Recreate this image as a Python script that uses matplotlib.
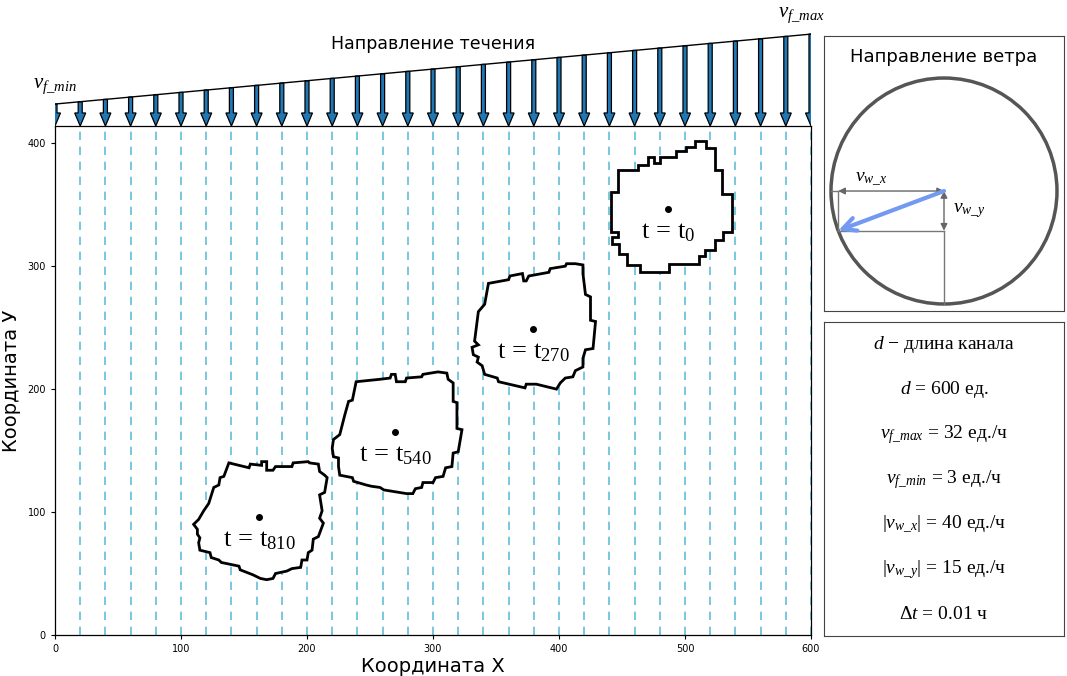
import numpy as np
import matplotlib
matplotlib.use('Agg')
import matplotlib.pyplot as plt
from matplotlib.patches import Polygon, Circle

plt.rcParams['mathtext.fontset'] = 'custom'
plt.rcParams['mathtext.rm'] = 'Liberation Serif'
plt.rcParams['mathtext.it'] = 'Liberation Serif:italic'
plt.rcParams['mathtext.bf'] = 'Liberation Serif:bold'

# ---------------- data ----------------
d = 600          # channel length
vf_max = 32      # max flow speed
vf_min = 3       # min flow speed
vw_x = 40        # wind x component
vw_y = 15        # wind y component
dt = 0.01        # time step

grid_x = np.arange(0, 601, 20)
x_ticks = [0, 100, 200, 300, 400, 500, 600]
y_ticks = [0, 100, 200, 300, 400]

steps = ['0', '270', '540', '810']
centers_x = [486.5, 379.4, 269.8, 161.9]
centers_y = [346.3, 248.8, 165.0, 95.9]

blob_t0 = [(447, 378), (463, 378), (463, 382), (471, 382), (471, 389), (475, 389), (475, 384),
           (480, 384), (480, 389), (493, 389), (493, 394), (501, 394), (501, 397), (508, 397),
           (508, 402), (517, 402), (517, 396), (524, 396), (524, 378), (529, 378), (529, 359),
           (537, 359), (537, 328), (530, 328), (530, 321), (524, 321), (524, 313), (516, 313),
           (516, 308), (511, 308), (511, 302), (487, 302), (487, 295), (464, 295), (464, 301),
           (454, 301), (454, 310), (448, 310), (448, 318), (442, 318), (442, 324), (447, 324),
           (447, 328), (441, 328), (441, 360), (447, 360)]

blob_t270 = [(344, 286), (360, 289), (361, 292), (371, 294), (372, 288), (374, 288), (376, 292),
             (392, 295), (393, 298), (405, 300), (406, 302), (413, 302), (419, 301), (419, 294),
             (421, 277), (425, 275), (425, 256), (429, 255), (427, 233), (421, 232), (419, 225),
             (419, 218), (413, 215), (411, 210), (405, 209), (401, 205), (398, 200), (382, 204),
             (374, 204), (373, 201), (352, 206), (351, 209), (341, 212), (339, 219), (335, 222),
             (336, 226), (332, 228), (331, 234), (336, 236), (333, 239), (336, 263), (341, 269)]

blob_t540 = [(239, 206), (258, 208), (266, 209), (267, 212), (270, 212), (271, 206), (278, 206),
             (279, 209), (291, 210), (292, 212), (304, 214), (311, 213), (312, 208), (316, 205),
             (316, 190), (319, 189), (319, 168), (323, 167), (320, 149), (316, 148), (315, 137),
             (310, 136), (308, 129), (302, 128), (300, 124), (292, 124), (291, 120), (286, 119),
             (284, 115), (279, 115), (261, 118), (258, 120), (251, 121), (247, 122), (237, 125),
             (236, 128), (226, 130), (225, 137), (225, 144), (221, 145), (220, 152), (221, 159),
             (226, 163), (230, 179), (233, 190), (236, 191)]

blob_t810 = [(138, 140), (154, 136), (155, 139), (164, 138), (164, 141), (168, 141), (168, 134),
             (173, 134), (175, 137), (188, 137), (189, 140), (201, 141), (202, 140), (209, 139),
             (210, 133), (214, 130), (216, 128), (214, 116), (210, 114), (212, 101), (210, 95),
             (213, 91), (209, 80), (205, 78), (204, 69), (201, 67), (200, 61), (196, 61),
             (195, 55), (188, 54), (184, 52), (175, 50), (173, 46), (168, 45), (163, 46),
             (157, 49), (147, 53), (146, 56), (132, 59), (130, 61), (124, 63), (123, 67),
             (115, 69), (114, 75), (115, 79), (113, 82), (113, 86), (110, 90), (114, 94),
             (118, 101), (122, 107), (126, 120), (130, 122), (131, 128), (134, 129)]

blobs = [blob_t0, blob_t270, blob_t540, blob_t810]

# ---------------- layout ----------------
W, H = 1067, 676
fig = plt.figure(figsize=(W / 100, H / 100), dpi=100)

def rect(x0, y0, x1, y1):
    return [x0 / W, 1 - y1 / H, (x1 - x0) / W, (y1 - y0) / H]

# main axes
ax = fig.add_axes(rect(55, 126, 811, 635))
ax.set_xlim(0, d)
ax.set_ylim(0, 414)
for gx in grid_x:
    ax.axvline(gx, color='#62bedc', ls=(0, (5, 4)), lw=1.2, zorder=1)
for b in blobs:
    ax.add_patch(Polygon(b, closed=True, fc='white', ec='black', lw=2, zorder=3))
ax.plot(centers_x, centers_y, 'o', color='black', ms=4, zorder=4)
for s, cx, cy in zip(steps, centers_x, centers_y):
    ax.annotate(r'$\mathrm{t\,=\,t_{%s}}$' % s, xy=(cx, cy), xytext=(0, -22),
                textcoords='offset pixels', ha='center', va='center', fontsize=19, zorder=5)
ax.set_xticks(x_ticks)
ax.set_yticks(y_ticks)
ax.tick_params(labelsize=7, length=3)
ax.set_xlabel('Координата Х', fontsize=14, labelpad=2)
ax.set_ylabel('Координата У', fontsize=14, labelpad=5)
for sp in ax.spines.values():
    sp.set_linewidth(0.9)

# flow arrows axes
off = 6.1
axt = fig.add_axes(rect(55, 30, 811, 126))
axt.set_xlim(0, d)
axt.set_ylim(0, 39.8)
axt.axis('off')
speeds = vf_min + (vf_max - vf_min) * grid_x / d
for gx, v in zip(grid_x, speeds):
    axt.arrow(gx, v + off, 0, -(v + off), width=3.2, head_width=8.7, head_length=5.4,
              length_includes_head=True, fc='#1f77b4', ec='black', lw=0.9, zorder=2)
axt.plot([0, d], [vf_min + off, vf_max + off], color='black', lw=1, zorder=3)
axt.text(0.5, 0.854, 'Направление течения', transform=axt.transAxes,
         ha='center', va='center', fontsize=12.5)
fig.text(55 / W, 1 - 86 / H, r'$v_{f\_min}$', ha='center', va='center', fontsize=15)
fig.text(801 / W, 1 - 15 / H, r'$v_{f\_max}$', ha='center', va='center', fontsize=15)

# wind axes
axw = fig.add_axes(rect(824, 36, 1064, 311))
axw.set_xlim(-1.062, 1.062)
axw.set_ylim(-1.062, 1.372)
axw.set_xticks([])
axw.set_yticks([])
for sp in axw.spines.values():
    sp.set_color('#444444')
axw.add_patch(Circle((0, 0), 1, fill=False, ec='#555555', lw=2.5))
u = np.array([-vw_x, -vw_y], dtype=float)
u /= np.hypot(*u)
gc = '#777777'
axw.plot([u[0], u[0]], [0, u[1]], color=gc, lw=1)
axw.plot([u[0], 0], [u[1], u[1]], color=gc, lw=1)
axw.plot([0, 0], [u[1], -1], color=gc, lw=1)
axw.plot([-1, u[0]], [0, 0], color=gc, lw=1)
axw.annotate('', xy=(u[0], 0), xytext=(0, 0),
             arrowprops=dict(arrowstyle='<|-|>', color='#666666', lw=1, mutation_scale=10,
                             shrinkA=0, shrinkB=0))
axw.annotate('', xy=(0, u[1]), xytext=(0, 0),
             arrowprops=dict(arrowstyle='<|-|>', color='#666666', lw=1, mutation_scale=10,
                             shrinkA=0, shrinkB=0))
axw.annotate('', xy=(u[0], u[1]), xytext=(0, 0),
             arrowprops=dict(arrowstyle='->', color='#7399f2', lw=3, mutation_scale=24,
                             shrinkA=0, shrinkB=0))
axw.text(-0.646, 0.1, r'$v_{w\_x}$', ha='center', va='center', fontsize=14)
axw.text(0.08, -0.175, r'$v_{w\_y}$', ha='left', va='center', fontsize=14)
axw.text(0, 1.186, 'Направление ветра', ha='center', va='center', fontsize=13)

# info axes
axi = fig.add_axes(rect(824, 322, 1064, 636))
axi.set_xlim(0, 1)
axi.set_ylim(0, 1)
axi.set_xticks([])
axi.set_yticks([])
for sp in axi.spines.values():
    sp.set_color('#444444')
info_lines = [
    r'$d$ − длина канала',
    r'$d$ = ' + f'{d} ед.',
    r'$v_{f\_max}$ = ' + f'{vf_max} ед./ч',
    r'$v_{f\_min}$ = ' + f'{vf_min} ед./ч',
    r'$|v_{w\_x}|$ = ' + f'{vw_x} ед./ч',
    r'$|v_{w\_y}|$ = ' + f'{vw_y} ед./ч',
    r'$\Delta t$ = ' + f'{dt} ч',
]
ys = np.linspace(0.927, 0.067, len(info_lines))
for txt, yy in zip(info_lines, ys):
    axi.text(0.5, yy, txt, ha='center', va='center', fontsize=14, family='Liberation Serif')

fig.savefig('out.png', dpi=100)
